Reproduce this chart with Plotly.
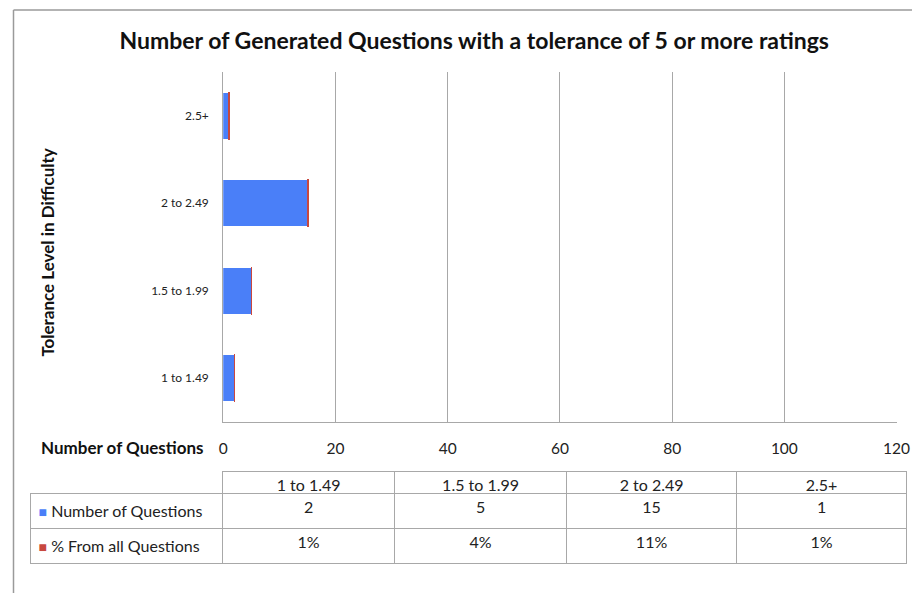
import plotly.graph_objects as go

categories = ["1 to 1.49", "1.5 to 1.99", "2 to 2.49", "2.5+"]
num_questions = [2, 5, 15, 1]
pct_questions = [0.01, 0.04, 0.11, 0.01]
x_ticks = [0, 20, 40, 60, 80, 100, 120]
series_names = ["Number of Questions", "% From all Questions"]

BLUE = "#4a7ff8"
RED = "#c8483f"
GRID = "#a8a8a8"
FONT = "Lato"

# page placement of the figure as observed in the rendered picture
OX, SX = 12.5, 0.977   # horizontal: picture_x = OX + SX * figure_x
OY = 8                 # vertical: picture_y = OY + figure_y
W, H = 920, 585

def px(x):
    return (x - OX) / SX / W

def py(y):
    return 1 - (y - OY) / H

fig = go.Figure()
fig.add_trace(go.Bar(
    y=categories, x=num_questions, orientation="h",
    name=series_names[0], marker=dict(color=BLUE, line=dict(width=0)),
    showlegend=False,
))
fig.add_trace(go.Bar(
    y=categories, x=pct_questions, orientation="h",
    name=series_names[1], marker=dict(color=RED, line=dict(color=RED, width=1.5)),
    showlegend=False,
))

# an <a href=...> tag survives plotly's table word-wrapping (no spaces inside)
label_col = [
    f'<a href="https://x"style="color:{c};font-size:14px">■</a> {name}'
    for c, name in zip([BLUE, RED], series_names)
]
cols_vals = [label_col]
for n, p in zip(num_questions, pct_questions):
    cols_vals.append([str(n), f"{round(p*100)}%"])

fig.add_trace(go.Table(
    domain=dict(x=[px(30), px(903)], y=[py(585), py(471)]),
    columnwidth=[192, 172, 172, 170, 170],
    header=dict(
        values=[""] + categories,
        height=22,
        align="center",
        fill=dict(color="white"),
        line=dict(color=["rgba(0,0,0,0)"] + [GRID] * 4, width=1),
        font=dict(family=FONT, size=16, color="#222"),
    ),
    cells=dict(
        values=cols_vals,
        height=29,
        align=["left", "center", "center", "center", "center"],
        fill=dict(color="white"),
        line=dict(color=GRID, width=1),
        font=dict(family=FONT, size=16, color="#222"),
    ),
))

fig.update_layout(
    width=W, height=H,
    margin=dict(l=0, r=0, t=0, b=0),
    paper_bgcolor="white", plot_bgcolor="white",
    barmode="stack", bargap=0.47,
    font=dict(family=FONT, color="#222"),
    title=dict(
        text="<b>Number of Generated Questions with a tolerance of 5 or more ratings</b>",
        x=px(468), y=py(41), xanchor="center", yanchor="middle",
        font=dict(family=FONT, size=23, color="#111"),
    ),
    xaxis=dict(
        domain=[px(222), px(893)], range=[0, 120], tickvals=x_ticks,
        showgrid=True, gridcolor=GRID, gridwidth=1,
        showline=True, linecolor=GRID, linewidth=1,
        zeroline=False, ticks="", ticklabelstandoff=12,
        tickfont=dict(family=FONT, size=15.5, color="#222"),
        fixedrange=True,
    ),
    yaxis=dict(
        domain=[py(422), py(72)], type="category",
        showgrid=False, showline=True, linecolor=GRID, linewidth=1,
        ticks="", ticklabelstandoff=11,
        tickfont=dict(family=FONT, size=12, color="#222"),
        fixedrange=True,
    ),
    annotations=[
        dict(text="<b>Tolerance Level in Difficulty</b>", x=px(46), y=py(253),
             xref="paper", yref="paper", textangle=-90, showarrow=False,
             xanchor="center", yanchor="middle",
             font=dict(family=FONT, size=17, color="#111")),
        dict(text="<b>Number of Questions</b>", x=px(205), y=py(447),
             xref="paper", yref="paper", showarrow=False,
             xanchor="right", yanchor="middle",
             font=dict(family=FONT, size=17, color="#111")),
    ],
    shapes=[
        dict(type="line", xref="paper", yref="paper", x0=px(13), x1=px(13),
             y0=py(10), y1=0, line=dict(color="#9a9a9a", width=1.5)),
        dict(type="line", xref="paper", yref="paper", x0=px(13), x1=1,
             y0=py(10), y1=py(10), line=dict(color="#9a9a9a", width=1.5)),
    ],
)

fig.write_html("out.html")
